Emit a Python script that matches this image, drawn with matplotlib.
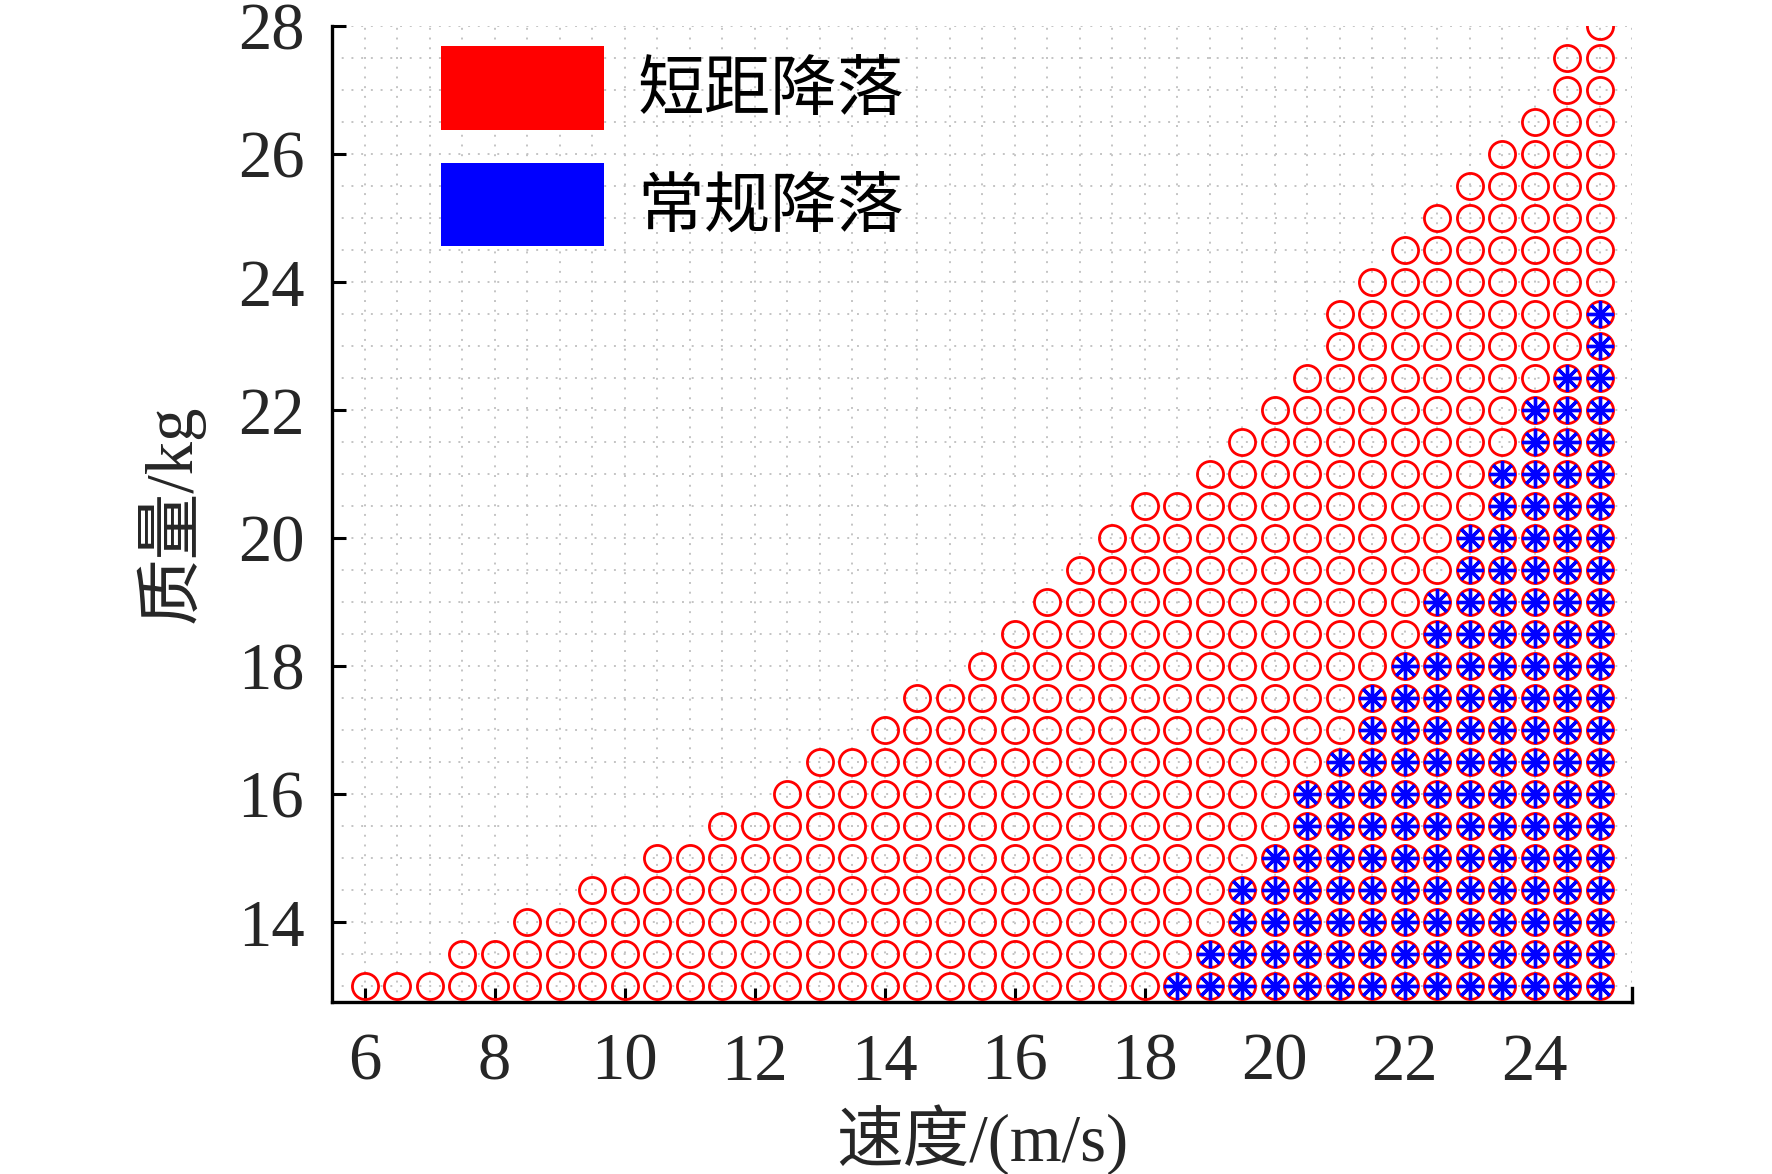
import numpy as np
import matplotlib
matplotlib.use('Agg')
import matplotlib.pyplot as plt
from matplotlib.patches import Patch
from matplotlib.ticker import MultipleLocator

plt.rcParams['font.family'] = ['Liberation Serif', 'Noto Sans CJK SC']

# speed columns (m/s) and the highest mass (kg) reached in each column
speeds = [6.0, 6.5, 7.0, 7.5, 8.0, 8.5, 9.0, 9.5, 10.0, 10.5, 11.0, 11.5, 12.0,
          12.5, 13.0, 13.5, 14.0, 14.5, 15.0, 15.5, 16.0, 16.5, 17.0, 17.5,
          18.0, 18.5, 19.0, 19.5, 20.0, 20.5, 21.0, 21.5, 22.0, 22.5, 23.0,
          23.5, 24.0, 24.5, 25.0]
short_top = [13.0, 13.0, 13.0, 13.5, 13.5, 14.0, 14.0, 14.5, 14.5, 15.0, 15.0,
             15.5, 15.5, 16.0, 16.5, 16.5, 17.0, 17.5, 17.5, 18.0, 18.5, 19.0,
             19.5, 20.0, 20.5, 20.5, 21.0, 21.5, 22.0, 22.5, 23.5, 24.0, 24.5,
             25.0, 25.5, 26.0, 26.5, 27.5, 28.0]

normal_speeds = [18.5, 19.0, 19.5, 20.0, 20.5, 21.0, 21.5, 22.0, 22.5, 23.0,
                 23.5, 24.0, 24.5, 25.0]
normal_top = [13.0, 13.5, 14.5, 15.0, 16.0, 16.5, 17.5, 18.0, 19.0, 20.0,
              21.0, 22.0, 22.5, 23.5]

mass_min = 13.0
step = 0.5
labels = ['短距降落', '常规降落']


def expand(cols, tops):
    xs, ys = [], []
    for v, top in zip(cols, tops):
        m = np.arange(mass_min, top + step / 2, step)
        xs.extend([v] * len(m))
        ys.extend(m)
    return np.array(xs), np.array(ys)


sx, sy = expand(speeds, short_top)
nx, ny = expand(normal_speeds, normal_top)

fig = plt.figure(figsize=(8.86, 5.87), dpi=200)
ax = fig.add_axes([0.1874, 0.1465, 0.7336, 0.8313])

ax.plot(sx, sy, linestyle='none', marker='o', markersize=9.4,
        markerfacecolor='none', markeredgecolor='#ff0000', markeredgewidth=1.0,
        zorder=3)
ax.plot(nx, ny, linestyle='none', marker=(8, 2, 0), markersize=9.4,
        markeredgecolor='#0000ff', markeredgewidth=1.2, zorder=4)

ax.set_xlim(5.5, 25.5)
ax.set_ylim(12.75, 28)
ax.set_xticks([6, 8, 10, 12, 14, 16, 18, 20, 22, 24])
ax.set_yticks([14, 16, 18, 20, 22, 24, 26, 28])
ax.xaxis.set_minor_locator(MultipleLocator(0.5))
ax.yaxis.set_minor_locator(MultipleLocator(0.5))
ax.grid(True, which='both', color='#c4c4c4', linestyle=(0, (1, 4)),
        linewidth=0.7, zorder=0)
ax.set_axisbelow(True)

ax.spines['top'].set_visible(False)
ax.spines['right'].set_bounds(12.75, 12.97)
for s in ['left', 'bottom', 'right']:
    ax.spines[s].set_linewidth(1.2)
    ax.spines[s].set_color('k')

ax.tick_params(which='major', direction='in', length=5, width=1.1,
               labelsize=24, labelcolor='#262626')
ax.tick_params(axis='x', which='major', pad=11)
ax.tick_params(axis='y', which='major', pad=10)
ax.tick_params(which='minor', length=0)

ax.set_xlabel('速度/(m/s)', fontsize=24, color='#262626', labelpad=4)
ax.set_ylabel('质量/kg', fontsize=24, color='#262626', labelpad=12)

handles = [Patch(facecolor='#ff0000', edgecolor='none'),
           Patch(facecolor='#0000ff', edgecolor='none')]
ax.legend(handles, labels, loc='upper left', bbox_to_anchor=(0.0838, 0.9795),
          frameon=False, handlelength=2.45, handleheight=1.55,
          handletextpad=0.5, labelspacing=0.5, borderpad=0, borderaxespad=0,
          prop={'family': ['Noto Sans CJK SC'], 'size': 24})

fig.savefig('out.png', dpi=200)
